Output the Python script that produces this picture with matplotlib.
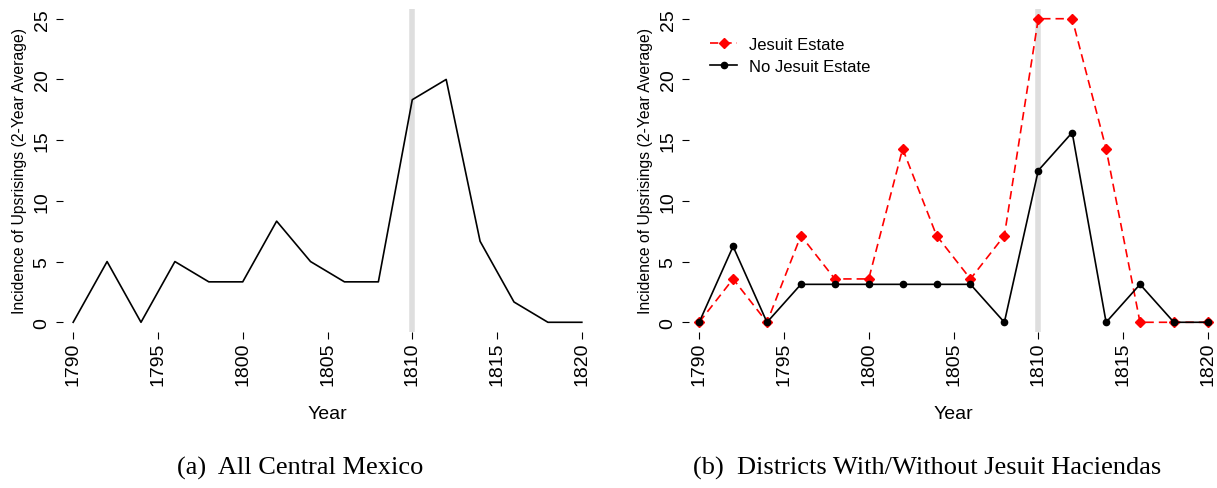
import matplotlib
matplotlib.use("Agg")
import matplotlib.pyplot as plt

# --- data (2-year averages) ---
years = [1790, 1792, 1794, 1796, 1798, 1800, 1802, 1804,
         1806, 1808, 1810, 1812, 1814, 1816, 1818, 1820]
all_mexico = [0, 5, 0, 5, 3.33, 3.33, 8.33, 5,
              3.33, 3.33, 18.33, 20, 6.67, 1.67, 0, 0]
jesuit = [0, 3.57, 0, 7.14, 3.57, 3.57, 14.29, 7.14,
          3.57, 7.14, 25, 25, 14.29, 0, 0, 0]
no_jesuit = [0, 6.25, 0, 3.125, 3.125, 3.125, 3.125, 3.125,
             3.125, 0, 12.5, 15.625, 0, 3.125, 0, 0]
xticks = [1790, 1795, 1800, 1805, 1810, 1815, 1820]
yticks = [0, 5, 10, 15, 20, 25]
event_year = 1810
ylab = "Incidence of Upsrisings (2-Year Average)"
captions = ["(a)  All Central Mexico", "(b)  Districts With/Without Jesuit Haciendas"]

plt.rcParams['font.family'] = ['Liberation Sans', 'DejaVu Sans']

fig = plt.figure(figsize=(12.17, 4.89), dpi=100)
W, H = 1217, 489


def make_axes(left_px):
    # R-like axes: no box, outward ticks, labels parallel to axis
    ax = fig.add_axes([left_px / W, (H - 333) / H, 529 / W, 323 / H])
    ax.set_xlim(1789.4, 1820.6)
    ax.set_ylim(-0.8, 25.8)
    for s in ax.spines.values():
        s.set_visible(False)
    ax.set_xticks(xticks)
    ax.set_yticks(yticks)
    ax.tick_params(axis='x', direction='out', length=5, width=0.8, pad=2,
                   labelsize=14, labelrotation=90)
    ax.tick_params(axis='y', direction='out', length=5, width=0.8, pad=4,
                   labelsize=14)
    for lab in ax.get_yticklabels():
        lab.set_rotation(90)
        lab.set_va('center')
    ax.axvline(event_year, color='#dedede', lw=4, zorder=0)
    ax.set_xlabel("Year", fontsize=14, labelpad=14)
    ax.set_ylabel(ylab, fontsize=11.3, labelpad=5)
    return ax


ax1 = make_axes(63)
ax1.plot(years, all_mexico, color='black', lw=1.2)

ax2 = make_axes(689)
ax2.plot(years, jesuit, color='red', lw=1.2, ls=(0, (5, 3)),
         marker='D', ms=5, label='Jesuit Estate')
ax2.plot(years, no_jesuit, color='black', lw=1.2,
         marker='o', ms=4.5, label='No Jesuit Estate')
ax2.legend(loc='upper left', bbox_to_anchor=(0.012, 0.96), frameon=False,
           fontsize=12, handlelength=1.6, handletextpad=0.7, labelspacing=0.4)

fig.text(300 / W, 1 - 468 / H, captions[0], family='Liberation Serif',
         fontsize=19, ha='center', va='center')
fig.text(927 / W, 1 - 468 / H, captions[1], family='Liberation Serif',
         fontsize=19, ha='center', va='center')

fig.savefig("out.png", dpi=100)
